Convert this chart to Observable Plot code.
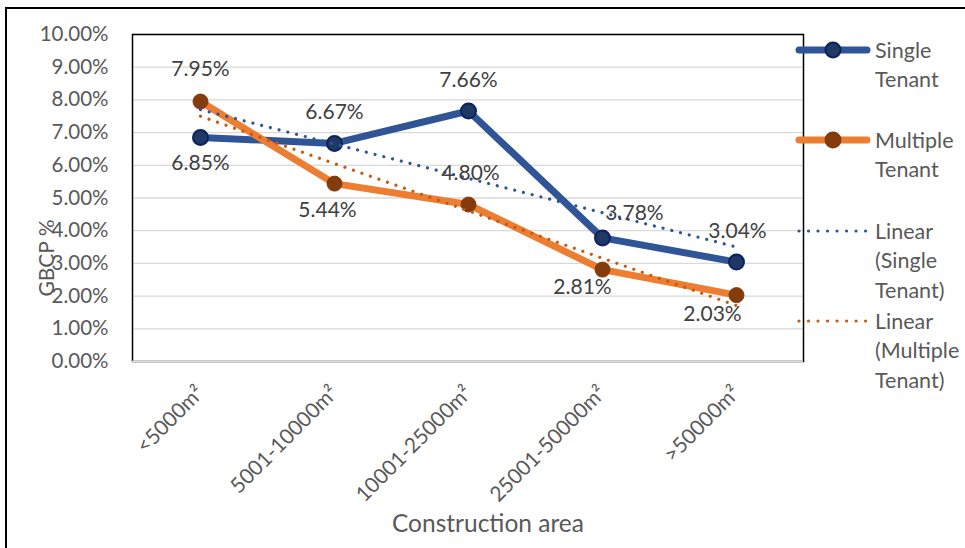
<!DOCTYPE html>
<html>
<head>
<meta charset="utf-8">
<script src="https://cdn.jsdelivr.net/npm/d3@7"></script>
<script src="https://cdn.jsdelivr.net/npm/@observablehq/plot@0.6"></script>
<style>
  html, body { margin: 0; padding: 0; background: #fff; }
  #chart { position: relative; width: 965px; height: 548px; overflow: hidden; }
  svg { font-family: Lato, "Open Sans", sans-serif; }
</style>
</head>
<body>
<div id="chart"></div>
<script>
// ---- data ----
const categories = ["<5000m²", "5001-10000m²", "10001-25000m²", "25001-50000m²", ">50000m²"];
const singleTenant = [6.85, 6.67, 7.66, 3.78, 3.04];
const multipleTenant = [7.95, 5.44, 4.80, 2.81, 2.03];
// linear trendline end points (first and last category)
const trendSingle = [7.70, 3.50];
const trendMultiple = [7.50, 1.71];
const yTicks = [0, 1, 2, 3, 4, 5, 6, 7, 8, 9, 10];
const seriesNames = ["Single Tenant", "Multiple Tenant", "Linear (Single Tenant)", "Linear (Multiple Tenant)"];

// ---- styling ----
const BLUE = "#2F5597", BLUE_MK = "#203864", BLUE_MK_STROKE = "#0B2260";
const ORANGE = "#ED7D31", ORANGE_MK = "#843C0C", ORANGE_TREND = "#C55A11";
const TEXT = "#595959";
const singleLabelOffsets = [[0, 26], [0, -31], [0, -31], [32, -25], [1, -31]];
const multipleLabelOffsets = [[0, -32], [-7, 27], [2, -31], [-20, 18], [-24, 19]];

const single = categories.map((c, i) => ({cat: c, v: singleTenant[i]}));
const multiple = categories.map((c, i) => ({cat: c, v: multipleTenant[i]}));
const tSingle = [{cat: categories[0], v: trendSingle[0]}, {cat: categories[categories.length - 1], v: trendSingle[1]}];
const tMultiple = [{cat: categories[0], v: trendMultiple[0]}, {cat: categories[categories.length - 1], v: trendMultiple[1]}];

const fmt = d => d.toFixed(2) + "%";

const labelMarks = [];
single.forEach((d, i) => labelMarks.push(Plot.text([d], {
  x: "cat", y: "v", text: d => fmt(d.v), dx: singleLabelOffsets[i][0], dy: singleLabelOffsets[i][1],
  fill: "#404040", fontSize: 21
})));
multiple.forEach((d, i) => labelMarks.push(Plot.text([d], {
  x: "cat", y: "v", text: d => fmt(d.v), dx: multipleLabelOffsets[i][0], dy: multipleLabelOffsets[i][1],
  fill: "#404040", fontSize: 21
})));

const dotted = {strokeWidth: 3.2, strokeDasharray: "0.01 9", strokeLinecap: "round"};

const chart = Plot.plot({
  width: 965,
  height: 548,
  marginLeft: 132,
  marginRight: 162,
  marginTop: 34,
  marginBottom: 187,
  style: {fontFamily: "Lato, 'Open Sans', sans-serif", background: "white"},
  x: {type: "point", domain: categories, padding: 0.5, align: 0.5},
  y: {domain: [0, 10]},
  marks: [
    Plot.gridY(yTicks, {stroke: "#D9D9D9", strokeOpacity: 1, strokeWidth: 1.3}),
    Plot.axisY(yTicks, {tickSize: 0, tickPadding: 24, tickFormat: fmt, fontSize: 20.5, fill: TEXT, label: null}),
    Plot.axisX({tickSize: 0, tickPadding: 28, tickRotate: -45, fontSize: 21, fill: TEXT, label: null}),
    Plot.frame({stroke: "#000", strokeWidth: 1.5}),
    Plot.ruleY([0], {stroke: "#D9D9D9", strokeWidth: 2}),
    Plot.line(single, {x: "cat", y: "v", stroke: BLUE, strokeWidth: 7, strokeLinejoin: "round", strokeLinecap: "round"}),
    Plot.dot(single, {x: "cat", y: "v", r: 7.5, fill: BLUE_MK, stroke: BLUE_MK_STROKE, strokeWidth: 2}),
    Plot.line(multiple, {x: "cat", y: "v", stroke: ORANGE, strokeWidth: 7, strokeLinejoin: "round", strokeLinecap: "round"}),
    Plot.dot(multiple, {x: "cat", y: "v", r: 7.5, fill: ORANGE_MK, stroke: ORANGE_MK, strokeWidth: 1}),
    Plot.line(tSingle, {x: "cat", y: "v", stroke: BLUE, ...dotted}),
    Plot.line(tMultiple, {x: "cat", y: "v", stroke: ORANGE_TREND, ...dotted}),
    ...labelMarks
  ]
});

const svg = d3.select(chart);

// outer chart border (left and top)
svg.append("path").attr("d", "M6,548 V8 H965").attr("fill", "none").attr("stroke", "#000").attr("stroke-width", 2);

// axis titles
svg.append("text").attr("x", 488).attr("y", 532).attr("text-anchor", "middle")
  .attr("font-size", 24.5).attr("fill", TEXT).text("Construction area");
svg.append("text").attr("transform", "translate(54,258) rotate(-90)").attr("text-anchor", "middle")
  .attr("font-size", 21).attr("fill", TEXT).text("GBCP %");

// legend
const legend = svg.append("g").attr("font-size", 21.5).attr("fill", TEXT).attr("text-anchor", "start");
const items = [
  {y: 50, lines: ["Single", "Tenant"], kind: "solid", stroke: BLUE, mk: BLUE_MK, mkStroke: BLUE_MK_STROKE},
  {y: 140, lines: ["Multiple", "Tenant"], kind: "solid", stroke: ORANGE, mk: ORANGE_MK, mkStroke: ORANGE_MK},
  {y: 231, lines: ["Linear", "(Single", "Tenant)"], kind: "dot", stroke: BLUE},
  {y: 321, lines: ["Linear", "(Multiple", "Tenant)"], kind: "dot", stroke: ORANGE_TREND}
];
items.forEach(it => {
  if (it.kind === "solid") {
    legend.append("line").attr("x1", 799).attr("x2", 867).attr("y1", it.y).attr("y2", it.y)
      .attr("stroke", it.stroke).attr("stroke-width", 7).attr("stroke-linecap", "round");
    legend.append("circle").attr("cx", 833).attr("cy", it.y).attr("r", 7.5)
      .attr("fill", it.mk).attr("stroke", it.mkStroke).attr("stroke-width", 2);
  } else {
    legend.append("line").attr("x1", 799).attr("x2", 866).attr("y1", it.y).attr("y2", it.y)
      .attr("stroke", it.stroke).attr("stroke-width", 3.2).attr("stroke-dasharray", "0.01 9.5").attr("stroke-linecap", "round");
  }
  it.lines.forEach((t, k) => {
    legend.append("text").attr("x", 875).attr("y", it.y + k * 29.7).attr("dy", "0.35em").text(t);
  });
});

document.getElementById("chart").appendChild(chart);
</script>
</body>
</html>
